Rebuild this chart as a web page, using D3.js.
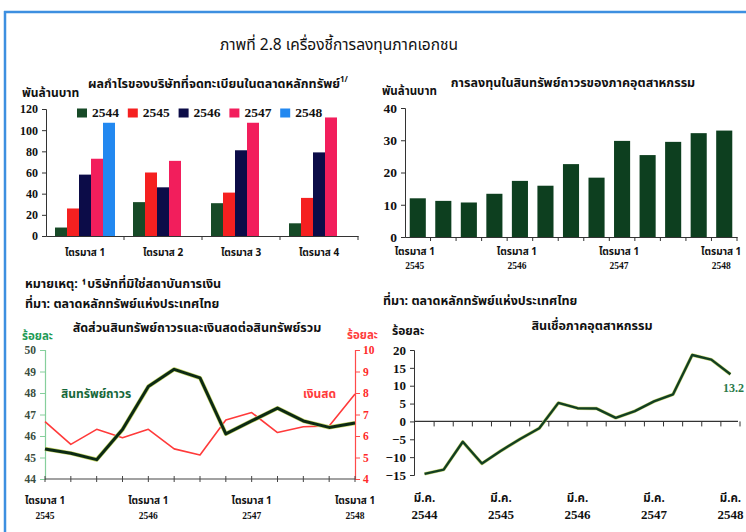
<!DOCTYPE html>
<html>
<head>
<meta charset="utf-8">
<script src="https://cdn.jsdelivr.net/npm/d3@7"></script>
<style>
  html, body { margin: 0; padding: 0; background: #fff; }
  svg { display: block; }
  .th { font-family: 'Noto Sans Thai', 'Noto Serif Thai', 'Loma', 'Garuda', 'Norasi', 'Tlwg Typo', 'Liberation Serif', serif; }
  .num { font-family: 'Liberation Serif', 'Times New Roman', serif; }
</style>
</head>
<body>
<script>
// ---- Profits of listed companies (billion baht), by quarter and year ----
const profitQuarters = ['ไตรมาส 1', 'ไตรมาส 2', 'ไตรมาส 3', 'ไตรมาส 4'];
const profitYears = ['2544', '2545', '2546', '2547', '2548'];
const profit2544 = [8, 32, 31, 12];
const profit2545 = [26, 60, 41, 36];
const profit2546 = [58, 46, 81, 79];
const profit2547 = [73, 71, 107, 112];
const profit2548 = [107, null, null, null];
const profitTicks = [0, 20, 40, 60, 80, 100, 120];

// ---- Fixed-asset investment of the industrial sector (billion baht) ----
const investPeriods = ['2545Q1', '2545Q2', '2545Q3', '2545Q4', '2546Q1', '2546Q2', '2546Q3', '2546Q4',
                       '2547Q1', '2547Q2', '2547Q3', '2547Q4', '2548Q1'];
const investValues = [12.0, 11.2, 10.7, 13.4, 17.4, 15.9, 22.6, 18.4, 29.8, 25.4, 29.5, 32.2, 33.0];
const investTicks = [0, 10, 20, 30, 40];

// ---- Fixed assets and cash as a share of total assets (percent) ----
const ratioPeriods = investPeriods;
const fixedAssetShare = [45.4, 45.2, 44.9, 46.3, 48.3, 49.1, 48.7, 46.1, 46.7, 47.3, 46.7, 46.4, 46.6];
const cashShare = [6.67, 5.61, 6.31, 5.92, 6.31, 5.40, 5.12, 6.74, 7.09, 6.16, 6.43, 6.47, 7.95];
const fixedTicks = [44, 45, 46, 47, 48, 49, 50];
const cashTicks = [4, 5, 6, 7, 8, 9, 10];

// ---- Industrial credit growth (percent, year on year) ----
const creditPeriods = ['มี.ค. 2544', 'มิ.ย. 2544', 'ก.ย. 2544', 'ธ.ค. 2544',
                       'มี.ค. 2545', 'มิ.ย. 2545', 'ก.ย. 2545', 'ธ.ค. 2545',
                       'มี.ค. 2546', 'มิ.ย. 2546', 'ก.ย. 2546', 'ธ.ค. 2546',
                       'มี.ค. 2547', 'มิ.ย. 2547', 'ก.ย. 2547', 'ธ.ค. 2547',
                       'มี.ค. 2548'];
const creditGrowth = [-14.7, -13.5, -5.7, -11.8, -8.2, -4.9, -1.9, 5.2, 3.7, 3.6, 1.0, 2.9, 5.6, 7.6, 18.6, 17.3, 13.2];
const creditTicks = [-15, -10, -5, 0, 5, 10, 15, 20];

const W = 746, H = 532;
const svg = d3.select('body').append('svg').attr('width', W).attr('height', H);

function text(x, y, str, opts = {}) {
  return svg.append('text')
    .attr('class', opts.cls || 'th')
    .attr('x', x).attr('y', y)
    .attr('dominant-baseline', 'middle')
    .attr('text-anchor', opts.anchor || 'start')
    .style('font-size', (opts.size || 13) + 'px')
    .style('font-weight', opts.weight || 'bold')
    .attr('fill', opts.fill || '#111')
    .text(str);
}

function styleTicks(axisG, size, fill) {
  axisG.selectAll('text').attr('class', 'num')
    .style('font-size', size + 'px').style('font-weight', 'bold').attr('fill', fill);
}

// Frame
svg.append('line').attr('x1', 4).attr('x2', W).attr('y1', 12).attr('y2', 12)
  .attr('stroke', '#3d8fe0').attr('stroke-width', 2.5);
svg.append('line').attr('x1', 5).attr('x2', 5).attr('y1', 11).attr('y2', H)
  .attr('stroke', '#3d8fe0').attr('stroke-width', 2.5);

// Main title
text(339, 46, 'ภาพที่ 2.8  เครื่องชี้การลงทุนภาคเอกชน', { anchor: 'middle', size: 15.5, weight: 'normal' });

// ================= Chart 1: profits =================
{
  const x0 = d3.scaleBand().domain(profitQuarters).range([46, 358]);
  const x1 = d3.scaleBand().domain(profitYears).range([0, x0.bandwidth()]).paddingInner(0).paddingOuter(0.75);
  const y = d3.scaleLinear().domain([0, 120]).range([236, 109]);
  const colors = { '2544': '#174a27', '2545': '#f52020', '2546': '#0c0c48', '2547': '#f21e5c', '2548': '#2288f0' };
  const series = { '2544': profit2544, '2545': profit2545, '2546': profit2546, '2547': profit2547, '2548': profit2548 };

  text(22, 94, 'พันล้านบาท', { size: 12 });
  const t = text(88, 85, 'ผลกำไรของบริษัทที่จดทะเบียนในตลาดหลักทรัพย์', { size: 12.5 });
  t.append('tspan').style('font-size', '8px').attr('dy', -5).text('1/');

  const g = svg.append('g');
  profitYears.forEach(yr => {
    profitQuarters.forEach((q, i) => {
      const v = series[yr][i];
      if (v == null) return;
      g.append('rect')
        .attr('x', x0(q) + x1(yr)).attr('width', x1.bandwidth())
        .attr('y', y(v)).attr('height', y(0) - y(v))
        .attr('fill', colors[yr]);
    });
  });

  const ya = svg.append('g').attr('transform', 'translate(46,0)')
    .call(d3.axisLeft(y).tickValues(profitTicks).tickSize(4).tickPadding(4));
  styleTicks(ya, 12, '#111');
  ya.select('.domain').attr('stroke', '#333');
  ya.selectAll('.tick line').attr('stroke', '#333');

  const xa = svg.append('g').attr('transform', `translate(0,${y(0)})`)
    .call(d3.axisBottom(x0).tickSize(0).tickFormat(''));
  xa.select('.domain').attr('stroke', '#333').attr('stroke-width', 1.2);
  profitQuarters.forEach((q, i) => {
    svg.append('line').attr('x1', x0(q) + x0.bandwidth()).attr('x2', x0(q) + x0.bandwidth())
      .attr('y1', y(0)).attr('y2', y(0) + 4).attr('stroke', '#333');
    text(x0(q) + x0.bandwidth() / 2, 253, q, { anchor: 'middle', size: 10 });
  });

  // Legend
  profitYears.forEach((yr, i) => {
    const lx = 77 + i * 50.8;
    svg.append('rect').attr('x', lx).attr('y', 108.5).attr('width', 10).attr('height', 9).attr('fill', colors[yr]);
    text(lx + 15, 113.5, yr, { cls: 'num', size: 13.5 });
  });
}

// ================= Chart 2: fixed-asset investment =================
{
  const x = d3.scaleBand().domain(investPeriods).range([405, 737]).paddingInner(0.37).paddingOuter(0.185);
  const y = d3.scaleLinear().domain([0, 40]).range([237, 108]);

  text(382, 92, 'พันล้านบาท', { size: 11.5 });
  text(573, 84, 'การลงทุนในสินทรัพย์ถาวรของภาคอุตสาหกรรม', { anchor: 'middle', size: 12.5 });

  svg.append('g').selectAll('rect').data(investValues).join('rect')
    .attr('x', (d, i) => x(investPeriods[i])).attr('width', x.bandwidth())
    .attr('y', d => y(d)).attr('height', d => y(0) - y(d))
    .attr('fill', '#0d3f1f');

  const ya = svg.append('g').attr('transform', 'translate(405,0)')
    .call(d3.axisLeft(y).tickValues(investTicks).tickSize(4).tickPadding(4));
  styleTicks(ya, 13.5, '#111');
  ya.select('.domain').attr('stroke', '#333');
  ya.selectAll('.tick line').attr('stroke', '#333');

  const xa = svg.append('g').attr('transform', `translate(0,${y(0)})`)
    .call(d3.axisBottom(x).tickSize(0).tickFormat(''));
  xa.select('.domain').attr('stroke', '#333').attr('stroke-width', 1.2);
  const half = x.step() * x.paddingInner() / 2;
  investPeriods.forEach((p, i) => {
    const bx = x(p) + x.bandwidth() + half;
    svg.append('line').attr('x1', bx).attr('x2', bx).attr('y1', y(0)).attr('y2', y(0) + 4).attr('stroke', '#333');
    if (i % 4 === 0) {
      const cx = x(p) + x.bandwidth() / 2 - 3;
      text(cx, 252, 'ไตรมาส 1', { anchor: 'middle', size: 10 });
      text(cx, 267, p.slice(0, 4), { cls: 'num', anchor: 'middle', size: 9.5 });
    }
  });
}

// ================= Notes under chart 1 =================
text(25, 285, 'หมายเหตุ: ¹บริษัทที่มิใช่สถาบันการเงิน', { size: 12.5 });
text(25, 305, 'ที่มา: ตลาดหลักทรัพย์แห่งประเทศไทย', { size: 12.5 });
text(383, 302, 'ที่มา: ตลาดหลักทรัพย์แห่งประเทศไทย', { size: 12.5 });

// ================= Chart 3: asset ratios =================
{
  const x = d3.scalePoint().domain(ratioPeriods).range([45, 355]);
  const yL = d3.scaleLinear().domain([44, 50]).range([479, 350]);
  const yR = d3.scaleLinear().domain([4, 10]).range([479, 350]);

  text(197, 329, 'สัดส่วนสินทรัพย์ถาวรและเงินสดต่อสินทรัพย์รวม', { anchor: 'middle', size: 12.5 });
  text(22, 337, 'ร้อยละ', { size: 11.5, fill: '#1f9a55' });
  text(347, 336, 'ร้อยละ', { size: 11.5, fill: '#ff3b3b' });

  const ya = svg.append('g').attr('transform', 'translate(45,0)')
    .call(d3.axisLeft(yL).tickValues(fixedTicks).tickSize(5).tickPadding(4).tickFormat(d3.format('d')));
  styleTicks(ya, 11.5, '#3a4d3e');
  ya.select('.domain').attr('stroke', '#86cf9c').attr('stroke-width', 1.2);
  ya.selectAll('.tick line').attr('stroke', '#86cf9c');

  const yb = svg.append('g').attr('transform', 'translate(355,0)')
    .call(d3.axisRight(yR).tickValues(cashTicks).tickSize(5).tickPadding(3).tickFormat(d3.format('d')));
  styleTicks(yb, 11.5, '#ff2a2a');
  yb.select('.domain').attr('stroke', '#ff4a4a').attr('stroke-width', 1.2);
  yb.selectAll('.tick line').attr('stroke', '#ff4a4a');

  svg.append('line').attr('x1', 45).attr('x2', 355).attr('y1', 479).attr('y2', 479)
    .attr('stroke', '#444').attr('stroke-width', 1.2);
  ratioPeriods.forEach((p, i) => {
    svg.append('line').attr('x1', x(p)).attr('x2', x(p)).attr('y1', 476).attr('y2', 482).attr('stroke', '#444');
    if (i % 4 === 0) {
      text(x(p), 501, 'ไตรมาส 1', { anchor: 'middle', size: 10 });
      text(x(p), 517, p.slice(0, 4), { cls: 'num', anchor: 'middle', size: 9.5 });
    }
  });

  const lineL = d3.line().x((d, i) => x(ratioPeriods[i])).y(d => yL(d));
  const lineR = d3.line().x((d, i) => x(ratioPeriods[i])).y(d => yR(d));
  svg.append('path').datum(cashShare).attr('d', lineR)
    .attr('fill', 'none').attr('stroke', '#ff3a3a').attr('stroke-width', 1.6).attr('stroke-linejoin', 'round');
  svg.append('path').datum(fixedAssetShare).attr('d', lineL)
    .attr('fill', 'none').attr('stroke', '#c9d86a').attr('stroke-width', 4.2).attr('stroke-linejoin', 'round');
  svg.append('path').datum(fixedAssetShare).attr('d', lineL)
    .attr('fill', 'none').attr('stroke', '#0c2a14').attr('stroke-width', 3).attr('stroke-linejoin', 'round');

  text(61, 395, 'สินทรัพย์ถาวร', { size: 12, fill: '#17683a' });
  text(303, 395, 'เงินสด', { size: 12, fill: '#ff3b3b' });
}

// ================= Chart 4: industrial credit =================
{
  const x = d3.scaleBand().domain(creditPeriods).range([415, 740]);
  const y = d3.scaleLinear().domain([-15, 20]).range([475, 350]);
  const cx = p => x(p) + x.bandwidth() / 2;

  text(592, 327, 'สินเชื่อภาคอุตสาหกรรม', { anchor: 'middle', size: 12.5 });
  text(392, 332, 'ร้อยละ', { size: 12 });

  const ya = svg.append('g').attr('transform', 'translate(414,0)')
    .call(d3.axisLeft(y).tickValues(creditTicks).tickSize(4).tickPadding(4));
  styleTicks(ya, 13, '#111');
  ya.select('.domain').attr('stroke', '#333');
  ya.selectAll('.tick line').attr('stroke', '#333');

  svg.append('line').attr('x1', 414).attr('x2', 738).attr('y1', y(0)).attr('y2', y(0))
    .attr('stroke', '#333').attr('stroke-width', 1.2);
  creditPeriods.forEach((p, i) => {
    const bx = x(p) + x.bandwidth();
    svg.append('line').attr('x1', bx).attr('x2', bx).attr('y1', y(0)).attr('y2', y(0) + 5).attr('stroke', '#333');
    if (i % 4 === 0) {
      const [m, yr] = p.split(' ');
      text(cx(p), 499, m, { anchor: 'middle', size: 11.5 });
      text(cx(p), 516, yr, { cls: 'num', anchor: 'middle', size: 13 });
    }
  });

  const line = d3.line().x((d, i) => cx(creditPeriods[i])).y(d => y(d));
  svg.append('path').datum(creditGrowth).attr('d', line)
    .attr('fill', 'none').attr('stroke', '#cbd878').attr('stroke-width', 3.4).attr('stroke-linejoin', 'round');
  svg.append('path').datum(creditGrowth).attr('d', line)
    .attr('fill', 'none').attr('stroke', '#123f22').attr('stroke-width', 2.4).attr('stroke-linejoin', 'round');

  const last = creditGrowth[creditGrowth.length - 1];
  text(723, 389, last.toFixed(1), { cls: 'num', size: 12, fill: '#2a7a4a' });
}
</script>
</body>
</html>
